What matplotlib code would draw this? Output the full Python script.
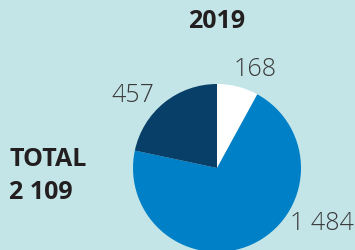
import matplotlib
matplotlib.use("Agg")
import matplotlib.pyplot as plt

categories = ["A", "B", "C"]
values = [168, 1484, 457]
labels = ["168", "1 484", "457"]
colors = ["#ffffff", "#0080c6", "#073f68"]
title = "2019"
total_label = "TOTAL\n2 109"

W, H = 355, 250
bg = "#c4e5e8"
txt = "#231f20"

fig = plt.figure(figsize=(W / 100, H / 100), dpi=100, facecolor=bg)

cx, cy, r = 217, 168, 84
ax = fig.add_axes([(cx - r) / W, (H - cy - r) / H, 2 * r / W, 2 * r / H])
ax.set_facecolor(bg)
ax.pie(values, colors=colors, startangle=90, counterclock=False, radius=1,
       wedgeprops=dict(linewidth=0))
ax.set_xlim(-1, 1)
ax.set_ylim(-1, 1)
ax.set_aspect("equal")
ax.axis("off")

def px(x, y):
    return x / W, 1 - y / H

label_pos = [(255, 70), (322, 224), (133, 95)]
for lab, (x, y) in zip(labels, label_pos):
    fig.text(*px(x, y), lab, ha="center", va="center", fontsize=18,
             family="Open Sans", weight="light", color="#3a3a3a")

fig.text(*px(217, 22), title, ha="center", va="center", fontsize=18,
         family="Open Sans", weight="bold", color=txt)
fig.text(*px(9, 176), total_label, ha="left", va="center", fontsize=18,
         family="Open Sans", weight="bold", color=txt, linespacing=1.42)

fig.savefig("out.png", dpi=100, facecolor=bg)
